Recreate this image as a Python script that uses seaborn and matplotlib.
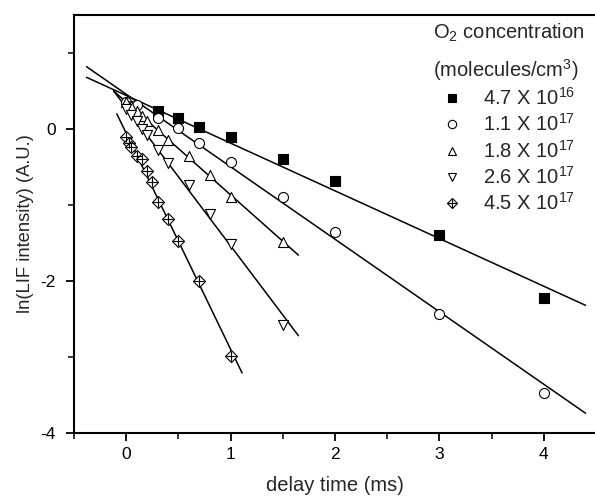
import numpy as np
import pandas as pd
import matplotlib
matplotlib.use('Agg')
import matplotlib.pyplot as plt
import seaborn as sns
from matplotlib.ticker import MultipleLocator

# --------------
# Data
# --------------
# 4.7 X 10^16
x_sq = [0.3, 0.5, 0.7, 1.0, 1.5, 2.0, 3.0, 4.0]
y_sq = [0.24, 0.15, 0.03, -0.11, -0.40, -0.68, -1.40, -2.22]
# 1.1 X 10^17
x_ci = [0.0, 0.05, 0.1, 0.3, 0.5, 0.7, 1.0, 1.5, 2.0, 3.0, 4.0]
y_ci = [0.35, 0.30, 0.31, 0.15, 0.01, -0.18, -0.43, -0.89, -1.36, -2.43, -3.48]
# 1.8 X 10^17
x_tu = [0.0, 0.05, 0.1, 0.15, 0.2, 0.3, 0.4, 0.6, 0.8, 1.0, 1.5]
y_tu = [0.36, 0.30, 0.24, 0.17, 0.11, -0.01, -0.15, -0.36, -0.61, -0.90, -1.49]
# 2.6 X 10^17
x_td = [0.0, 0.05, 0.1, 0.15, 0.2, 0.3, 0.4, 0.6, 0.8, 1.0, 1.5]
y_td = [0.26, 0.18, 0.10, 0.00, -0.08, -0.27, -0.45, -0.74, -1.12, -1.51, -2.58]
# 4.5 X 10^17
x_di = [0.0, 0.03, 0.05, 0.1, 0.15, 0.2, 0.25, 0.3, 0.4, 0.5, 0.7, 1.0]
y_di = [-0.11, -0.18, -0.24, -0.35, -0.40, -0.55, -0.70, -0.96, -1.19, -1.47, -2.00, -2.99]

# fitted lines, start and end points
line_sq_x = [-0.38, 4.40]
line_sq_y = [0.68, -2.32]
line_ci_x = [-0.38, 4.40]
line_ci_y = [0.82, -3.74]
line_tu_x = [-0.12, 1.65]
line_tu_y = [0.50, -1.66]
line_td_x = [-0.12, 1.65]
line_td_y = [0.50, -2.72]
line_di_x = [-0.09, 1.11]
line_di_y = [0.20, -3.21]

labels = ['4.7 X 10$^{16}$', '1.1 X 10$^{17}$', '1.8 X 10$^{17}$',
          '2.6 X 10$^{17}$', '4.5 X 10$^{17}$']
title_lines = ['O$_2$ concentration', '(molecules/cm$^3$)']

# --------------
# Figure
# --------------
sns.set_style('ticks')
plt.rcParams['font.family'] = ['Liberation Sans', 'DejaVu Sans']
plt.rcParams['mathtext.fontset'] = 'custom'
plt.rcParams['mathtext.rm'] = 'Liberation Sans'
plt.rcParams['mathtext.it'] = 'Liberation Sans'
plt.rcParams['axes.unicode_minus'] = False

fig = plt.figure(figsize=(5.95, 4.97), dpi=100)
ax = fig.add_axes([74 / 595, 64 / 497, 522 / 595, 418 / 497])

for lx, ly in [(line_sq_x, line_sq_y), (line_ci_x, line_ci_y), (line_tu_x, line_tu_y),
               (line_td_x, line_td_y), (line_di_x, line_di_y)]:
    sns.lineplot(x=lx, y=ly, ax=ax, color='black', linewidth=1.1, sort=False)

kw = dict(ax=ax, s=52, linewidth=0.8, zorder=3)
sns.scatterplot(x=x_sq, y=y_sq, marker='s', color='black', edgecolor='black', **kw)
sns.scatterplot(x=x_ci, y=y_ci, marker='o', facecolor='white', edgecolor='black', **kw)
sns.scatterplot(x=x_tu, y=y_tu, marker='^', facecolor='white', edgecolor='black', **kw)
sns.scatterplot(x=x_td, y=y_td, marker='v', facecolor='white', edgecolor='black', **kw)
sns.scatterplot(x=x_di, y=y_di, marker='D', facecolor='white', edgecolor='black',
                ax=ax, s=38, linewidth=0.8, zorder=3)
sns.scatterplot(x=x_di, y=y_di, marker='+', color='black', ax=ax, s=52,
                linewidth=0.8, zorder=4)

ax.set_xlim(-0.5, 4.5)
ax.set_ylim(-4, 1.5)
ax.xaxis.set_major_locator(MultipleLocator(1))
ax.xaxis.set_minor_locator(MultipleLocator(0.5))
ax.yaxis.set_major_locator(MultipleLocator(2))
ax.yaxis.set_minor_locator(MultipleLocator(1))
ax.tick_params(which='major', direction='out', length=6, width=1.3, labelsize=12.5,
               colors='black')
ax.tick_params(which='minor', direction='out', length=4, width=1.3)
ax.tick_params(axis='y', which='major', pad=7)
ax.tick_params(axis='x', which='major', pad=4)
for side in ['left', 'bottom', 'top']:
    ax.spines[side].set_linewidth(1.5)
    ax.spines[side].set_color('black')
ax.spines['right'].set_visible(False)

ax.set_xlabel('delay time (ms)', fontsize=14.5, labelpad=10)
ax.set_ylabel('ln(LIF intensity) (A.U.)', fontsize=13.2, labelpad=5)

# legend title as two text lines, entries as a legend below them
fig.text(433 / 595, 1 - 33 / 497, title_lines[0], fontsize=14.5, va='center', ha='left')
fig.text(433 / 595, 1 - 70 / 497, title_lines[1], fontsize=14.5, va='center', ha='left')

mk = dict(linestyle='none', markeredgecolor='black', markersize=6, markeredgewidth=0.8)
h_sq = plt.Line2D([], [], marker='s', markerfacecolor='black', **mk)
h_ci = plt.Line2D([], [], marker='o', markerfacecolor='white', **mk)
h_tu = plt.Line2D([], [], marker='^', markerfacecolor='white', **mk)
h_td = plt.Line2D([], [], marker='v', markerfacecolor='white', **mk)
h_d1 = plt.Line2D([], [], marker='D', markerfacecolor='white', linestyle='none',
                  markeredgecolor='black', markersize=5, markeredgewidth=0.8)
h_d2 = plt.Line2D([], [], marker='+', color='black', linestyle='none',
                  markersize=7, markeredgewidth=0.8)
leg = fig.legend([h_sq, h_ci, h_tu, h_td, (h_d1, h_d2)], labels,
                 loc='upper left', bbox_to_anchor=(442 / 595, 1 - 87 / 497),
                 frameon=False, fontsize=14.5, borderpad=0, borderaxespad=0,
                 handlelength=1.0, handletextpad=1.05, labelspacing=0.22)

fig.savefig('out.png', dpi=100)
plt.close(fig)
